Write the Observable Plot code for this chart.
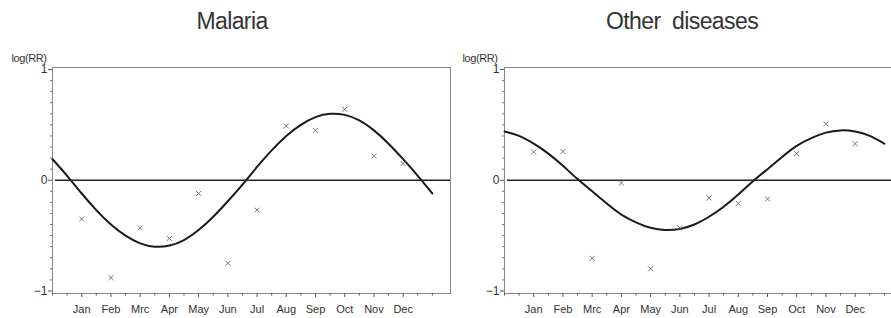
<!DOCTYPE html>
<html><head><meta charset="utf-8">
<script src="https://cdn.jsdelivr.net/npm/d3@7"></script>
<script src="https://cdn.jsdelivr.net/npm/@observablehq/plot@0.6"></script>
<style>
body{margin:0;background:#fff;font-family:"Liberation Sans",Arial,sans-serif;}
#wrap{position:relative;width:891px;height:318px;overflow:hidden;background:#fff}
.title{position:absolute;top:10px;font-size:23px;line-height:23px;color:#333;white-space:pre;letter-spacing:-0.6px;transform:translateX(-50%)}
.ylab{position:absolute;top:53px;font-size:11px;line-height:11px;color:#333;letter-spacing:-0.4px;transform:translateX(-50%)}
.panel{position:absolute;top:0;width:452px;height:318px}
.panel svg{max-width:none !important}
</style></head><body>
<div id="wrap">
  <div class="panel" id="p1" style="left:0px"></div>
  <div class="panel" id="p2" style="left:452px"></div>
  <div class="title" style="left:232px">Malaria</div>
  <div class="title" style="left:682px">Other  diseases</div>
  <div class="ylab" style="left:29px">log(RR)</div>
  <div class="ylab" style="left:480px">log(RR)</div>
</div>
<script>
const monthLabels = ["Jan","Feb","Mrc","Apr","May","Jun","Jul","Aug","Sep","Oct","Nov","Dec"];
const monthPos = [1,2,3,4,5,6,7,8,9,10,11,12];
const minorX = [0,0.5,1.5,2.5,3.5,4.5,5.5,6.5,7.5,8.5,9.5,10.5,11.5,12.5,13];
const yMajor = [-1,0,1];
const yMinor = [-0.9,-0.8,-0.7,-0.6,-0.5,-0.4,-0.3,-0.2,-0.1,0.1,0.2,0.3,0.4,0.5,0.6,0.7,0.8,0.9];

// observed monthly log(RR)
const malariaObs = [-0.35,-0.88,-0.43,-0.525,-0.12,-0.75,-0.27,0.49,0.45,0.64,0.22,0.15];
const otherObs   = [0.255,0.26,-0.705,-0.025,-0.80,-0.43,-0.16,-0.21,-0.17,0.24,0.51,0.33];

// fitted curves, read at half-month steps
const curveMonths = [0,0.5,1,1.5,2,2.5,3,3.5,4,4.5,5,5.5,6,6.5,7,7.5,8,8.5,9,9.5,10,10.5,11,11.5,12,12.5,13];
const malariaFit = [0.19,0.04,-0.12,-0.27,-0.40,-0.50,-0.57,-0.60,-0.59,-0.54,-0.45,-0.33,-0.19,-0.04,0.12,0.27,0.40,0.50,0.57,0.60,0.59,0.54,0.45,0.33,0.19,0.04,-0.12];
const otherFit   = [0.44,0.40,0.33,0.24,0.13,0.01,-0.10,-0.21,-0.31,-0.38,-0.43,-0.45,-0.44,-0.40,-0.33,-0.24,-0.13,-0.01,0.10,0.21,0.31,0.38,0.43,0.45,0.44,0.40,0.33];

function panel(obs, fit) {
  const pts = monthPos.map((m, i) => ({m, v: obs[i]}));
  const line = curveMonths.map((m, i) => ({m, v: fit[i]}));
  return Plot.plot({
    width: 452, height: 318,
    marginLeft: 52, marginRight: 2, marginTop: 67, marginBottom: 25,
    style: {fontFamily: "Liberation Sans, Arial, sans-serif", fontSize: "11px", color: "#333", background: "transparent", overflow: "visible", maxWidth: "none"},
    x: {domain: [0, 13.62], axis: null},
    y: {domain: [-1.023, 1.018], axis: null},
    marks: [
      Plot.frame({stroke: "#888", strokeWidth: 1}),
      Plot.ruleY([0], {x1: 0.1, x2: 13.62, stroke: "#222", strokeWidth: 1.5}),
      Plot.line(line, {x: "m", y: "v", curve: "natural", stroke: "#1a1a1a", strokeWidth: 2}),
      Plot.dot(pts, {x: "m", y: "v", symbol: "times", r: 2.4, stroke: "#777", strokeWidth: 1}),
      Plot.axisX(monthPos, {tickSize: 4, tickPadding: 8, stroke: "#555", fill: "#333", label: null, tickFormat: d => monthLabels[d - 1]}),
      Plot.axisX(minorX, {tickSize: 2.5, stroke: "#555", label: null, tickFormat: () => ""}),
      Plot.axisY(yMajor, {tickSize: 4, tickPadding: 1, stroke: "#555", fill: "#333", fontSize: 12, label: null, tickFormat: d => d < 0 ? "\u2212" + Math.abs(d) : String(d)}),
      Plot.axisY(yMinor, {tickSize: 2, stroke: "#777", label: null, tickFormat: () => ""})
    ]
  });
}

document.getElementById("p1").appendChild(panel(malariaObs, malariaFit));
document.getElementById("p2").appendChild(panel(otherObs, otherFit));
</script>
</body></html>
